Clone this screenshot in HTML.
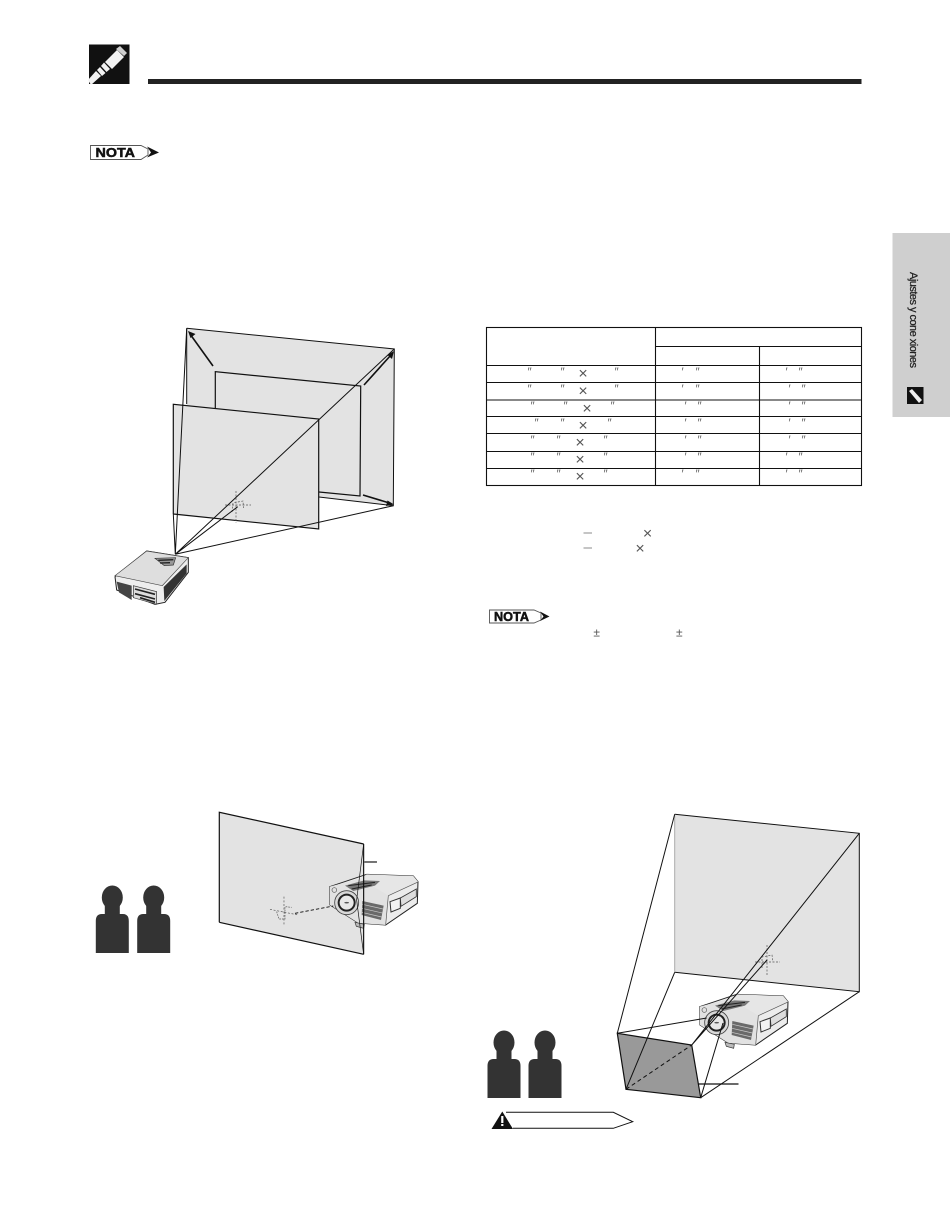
<!DOCTYPE html>
<html><head><meta charset="utf-8"><style>
html,body{margin:0;padding:0;background:#fff;width:950px;height:1227px;overflow:hidden}
svg{display:block}
text{font-family:"Liberation Sans",sans-serif}
.q{font-size:12px;fill:#666;font-style:italic;text-anchor:middle}
.x{font-size:16px;fill:#555;text-anchor:middle}
.l{stroke:#111;stroke-width:1;fill:none}
.b{stroke:#111;stroke-width:1.2;fill:none}
.d{stroke:#555;stroke-width:.7;fill:none;stroke-dasharray:2 1.500}
</style></head><body>
<svg width="950" height="1227" viewBox="0 0 950 1227" xmlns="http://www.w3.org/2000/svg">
<defs>
<g id="person"><ellipse cx="16.500" cy="11.500" rx="10.500" ry="12" fill="#333"/><path d="M9 18h15v10h3q6 0 6 7v32H0V35q0-7 6-7h3z" fill="#333"/></g>
<g id="proj">
<path d="M14 65L125 28 265 33 279 50 277 115 182 180 100 174 15 120Z" fill="#ececec" stroke="#222" stroke-width="3"/>
<path d="M125 28L265 33 279 50 190 92 100 45Z" fill="#e6e6e6"/>
<path d="M14 65L105 40 190 92 182 180 100 174 15 120Z" fill="#e2e2e2"/>
<path d="M190 92L182 180M190 92L277 52" stroke="#555" stroke-width="2" fill="none"/>
<path d="M112 108L176 122 168 165 110 150Z" fill="#6a6a6a"/>
<path d="M112 118L174 132M111 130L172 144M110 142L170 156" stroke="#ccc" stroke-width="2"/>
<path d="M195 110L226 99 226 130 198 141Z" fill="#f2f2f2" stroke="#333" stroke-width="3"/>
<path d="M226 99L274 72 274 95 228 124Z" fill="#ddd" stroke="#333" stroke-width="2.500"/>
<path d="M60 62L118 46 165 48 150 62 85 78Z" fill="#777"/>
<path d="M70 62L150 52M80 72L140 60" stroke="#222" stroke-width="3"/>
<circle cx="28" cy="75" r="7" fill="none" stroke="#555" stroke-width="2"/>
<circle cx="65" cy="113" r="36" fill="#d8d8d8" stroke="#444" stroke-width="2.500"/>
<circle cx="65" cy="113" r="27" fill="#222"/>
<circle cx="65" cy="113" r="21" fill="#e8e8e8"/>
<ellipse cx="65" cy="113" rx="7" ry="2.500" fill="#555"/>
<path d="M90 172L118 178 116 190 94 184Z" fill="#bbb" stroke="#333" stroke-width="2"/>
</g>
</defs>

<!-- header -->
<rect x="89" y="44.500" width="40.500" height="39.500" fill="#111"/>
<g fill="#f2f2f2">
<path d="M88 80 L96 71 L101 76 L91 85 Z"/>
<path d="M97 70 L100 67 L105.500 73 L102 76 Z"/>
<path d="M101 66 L104 62.500 L110 69 L106.500 72 Z"/>
<path d="M105 62 L117 50 L124 57 L112 69 Z"/>
<path d="M116 49 L120 46 L127 53 L124 56 Z" fill="#cfcfcf"/>
</g>
<rect x="148" y="79" width="713.500" height="5" fill="#222"/>

<!-- NOTA 1 -->
<path d="M90.500 145.500H141L148 149 V155 L141 159.500H90.500Z" fill="#fff" stroke="#555" stroke-width=".9"/>
<path d="M147 146.500L159 152.500 147 157.500 151 152.500Z" fill="#111"/>
<text x="95.500" y="157" font-size="13" font-weight="700" stroke="#111" stroke-width=".5" textLength="39.500" lengthAdjust="spacingAndGlyphs" fill="#111">NOTA</text>

<!-- side tab -->
<rect x="892.500" y="233" width="57.500" height="184" fill="#cfcfcf"/>
<text transform="translate(910 272) rotate(90)" font-size="11" stroke="#222" stroke-width=".25" fill="#222" textLength="96">Ajustes y cone xiones</text>
<rect x="907" y="387" width="16.500" height="17" fill="#111"/>
<path d="M909 391l3-2 10 11-3 3z" fill="#eee"/>

<!-- top left diagram -->
<polygon points="186.700,328.300 394.300,349 393.300,505.700 319,497 186.700,480" fill="#e3e3e3"/>
<path class="l" d="M186.700 328.300L394.300 349 393.300 505.700 319 497"/>
<path class="l" d="M186.700 328.300V404"/>
<polygon points="215.300,371.700 360.700,386 360,496 319,492 215.300,480" fill="#e3e3e3"/>
<path class="b" d="M215.300 408V371.700L360.700 386 360 496 319 492"/>
<polygon points="173.300,404.300 318.700,419 318.700,529 173.300,514" fill="#e3e3e3"/>
<path class="b" d="M173.300 514V404.300L318.700 419V529L173.300 514"/>
<path class="d" d="M236 491V523M225 505H251"/>
<path class="d" d="M232 512 233 503 243 501 243.500 508"/>
<path class="l" d="M175.300 554.300L186.700 328.300M175.300 554.300L173.300 514M175.300 554.300L394.300 349M175.300 554.300L393.300 505.700M175.300 554.300L237.700 506.700"/>
<!-- arrows -->
<path stroke="#111" stroke-width="1.600" d="M213 366L190 334"/><path d="M188 331l7.500 3-5 4z" fill="#111"/>
<path stroke="#111" stroke-width="1.600" d="M364 385L391 355"/><path d="M394 351l-2 8-4.500-4z" fill="#111"/>
<path stroke="#111" stroke-width="1.600" d="M363 495L391 503.500"/><path d="M394 504.500l-8 1.500 1.500-5.500z" fill="#111"/>
<!-- projector 1 -->
<g transform="translate(105 545) scale(.3333)">
<path d="M125 18L250 38 250 82 180 172 150 178 35 135 30 95Z" fill="#eee" stroke="#222" stroke-width="3"/>
<path d="M125 18L250 38 172 122 30 92Z" fill="#dedede" stroke="#444" stroke-width="2"/>
<path d="M35 110L80 122 80 165 42 142Z" fill="#444"/>
<path d="M176 126L245 58 245 85 178 168Z" fill="#333"/>
<path d="M85 122L155 140 155 178 85 158Z" fill="#ddd" stroke="#333" stroke-width="2"/>
<path d="M90 132L150 148M90 146L150 162M105 158L150 172" stroke="#222" stroke-width="5"/>
<path d="M150 40L212 38 205 60 178 62Z" fill="#999" stroke="#333" stroke-width="2"/>
<path d="M160 46L205 44M165 54L195 53" stroke="#222" stroke-width="4"/>
</g>

<!-- table -->
<g stroke="#111" stroke-width="1.100" fill="none">
<rect x="486.500" y="327.500" width="375" height="158"/>
<path d="M655.500 327.500V485.500M759.500 346.500V485.500M655.500 346.500H861.500M486.500 365.500H861.500M486.500 382.500H861.500M486.500 400H861.500M486.500 416.500H861.500M486.500 433.500H861.500M486.500 451.500H861.500M486.500 468.500H861.500"/>
</g>
<g>
<text class="q" x="529" y="376">″</text><text class="q" x="562" y="376">″</text><text class="x" x="583" y="378.500">×</text><text class="q" x="616" y="376">″</text><text class="q" x="682" y="376">′</text><text class="q" x="697" y="376">″</text><text class="q" x="786" y="376">′</text><text class="q" x="800" y="376">″</text>
<text class="q" x="529" y="393">″</text><text class="q" x="562" y="393">″</text><text class="x" x="583" y="396">×</text><text class="q" x="616" y="393">″</text><text class="q" x="682" y="393">′</text><text class="q" x="697" y="393">″</text><text class="q" x="789" y="393">′</text><text class="q" x="803" y="393">″</text>
<text class="q" x="532" y="410">″</text><text class="q" x="565" y="410">″</text><text class="x" x="587" y="413.500">×</text><text class="q" x="612" y="410">″</text><text class="q" x="685" y="410">′</text><text class="q" x="699" y="410">″</text><text class="q" x="789" y="410">′</text><text class="q" x="803" y="410">″</text>
<text class="q" x="536" y="427">″</text><text class="q" x="562" y="427">″</text><text class="x" x="583" y="430.500">×</text><text class="q" x="609" y="427">″</text><text class="q" x="685" y="427">′</text><text class="q" x="699" y="427">″</text><text class="q" x="789" y="427">′</text><text class="q" x="803" y="427">″</text>
<text class="q" x="532" y="444">″</text><text class="q" x="558" y="444">″</text><text class="x" x="580" y="447.500">×</text><text class="q" x="605" y="444">″</text><text class="q" x="685" y="444">′</text><text class="q" x="699" y="444">″</text><text class="q" x="789" y="444">′</text><text class="q" x="803" y="444">″</text>
<text class="q" x="532" y="461">″</text><text class="q" x="558" y="461">″</text><text class="x" x="580" y="464.500">×</text><text class="q" x="605" y="461">″</text><text class="q" x="685" y="461">′</text><text class="q" x="699" y="461">″</text><text class="q" x="786" y="461">′</text><text class="q" x="800" y="461">″</text>
<text class="q" x="532" y="478">″</text><text class="q" x="558" y="478">″</text><text class="x" x="580" y="481.500">×</text><text class="q" x="605" y="478">″</text><text class="q" x="682" y="478">′</text><text class="q" x="697" y="478">″</text><text class="q" x="786" y="478">′</text><text class="q" x="800" y="478">″</text>
</g>
<path d="M583.500 533H592M583.500 548H592" stroke="#666" stroke-width=".8"/>
<text class="x" x="647.500" y="538.500">×</text><text class="x" x="640" y="553.500">×</text>

<!-- NOTA 2 -->
<path d="M489.500 610H534L541 613 V620 L534 623H489.500Z" fill="#fff" stroke="#555" stroke-width=".9"/>
<path d="M540 611.500L549.500 616.500 540 621 543.500 616.500Z" fill="#111"/>
<text x="494" y="621" font-size="12.500" font-weight="700" stroke="#111" stroke-width=".5" textLength="35" lengthAdjust="spacingAndGlyphs" fill="#111">NOTA</text>
<text x="596.700" y="636.500" font-size="12" fill="#555" text-anchor="middle">±</text>
<text x="679.300" y="636.500" font-size="12" fill="#555" text-anchor="middle">±</text>

<!-- bottom left diagram -->
<polygon points="219.300,812.300 363.700,844 363.700,954.300 219.300,922.300" fill="#e3e3e3"/>
<path class="b" d="M219.300 922.300V812.300L363.700 844M219.300 922.300L363.700 954.300"/>
<g transform="translate(325 865) scale(.3333)"><use href="#proj"/></g>
<g transform="translate(85 800) scale(.3333)">
<path d="M836 132V463" stroke="#111" stroke-width="3.500"/>
<path d="M836 132L815 300 836 463" stroke="#111" stroke-width="2" fill="none"/>
<path d="M838 186H876" stroke="#111" stroke-width="3.500"/>
<path d="M630 340L745 318" stroke="#111" stroke-width="3" stroke-dasharray="10 6" fill="none"/>
<path d="M597 290V375M555 328L640 345" stroke="#555" stroke-width="2" stroke-dasharray="6 5" fill="none"/>
<path d="M575 335L582 357H600V320L620 322" stroke="#555" stroke-width="2" stroke-dasharray="5 3" fill="none"/>
</g>
<use href="#person" x="95.800" y="886"/>
<use href="#person" x="137.200" y="886"/>

<!-- bottom right diagram -->
<polygon points="674.700,814.300 859.300,833.300 859.300,991.700 674.700,972.300" fill="#e3e3e3"/>
<path class="l" d="M674.700 814.300L859.300 833.300V991.700L674.700 972.300"/>
<path d="M674.700 814.300V972.300" stroke="#aaa" stroke-width="1"/>
<g transform="translate(695 985) scale(.3333)"><use href="#proj"/></g>
<polygon points="617.300,1033.300 691.700,1045 700.700,1097.700 626,1089.300" fill="#999"/>
<path class="b" d="M617.300 1033.300L691.700 1045 700.700 1097.700 626 1089.300Z"/>
<path class="l" d="M674.700 814.300L617.300 1033.300M674.700 972.300L626 1089.300M700.700 1097.700L859.300 991.700"/>
<path d="M626 1089.300L691.700 1045" stroke="#111" stroke-width="1" stroke-dasharray="4 3"/>
<path class="d" d="M767 945V975M755 962H780"/>
<path class="d" d="M762 968 762 957 772 955 773 962"/>
<path class="l" d="M859.300 833.300L691.700 1045M767 960L691.700 1045M617.300 1033.300L706.700 1018M700.700 1097.700L723 1023"/>
<path d="M698 1084H738.500" stroke="#111" stroke-width="1.200"/>
<use href="#person" x="487.500" y="1031"/>
<use href="#person" x="528.500" y="1031"/>

<!-- caution -->
<path d="M506 1112.300H613.300L632.700 1121.700 613.300 1128.300H513" fill="#fff" stroke="#111" stroke-width="1"/>
<path d="M502.300 1111.500L513 1129H491.500Z" fill="#111"/>
<rect x="501.200" y="1116" width="2.200" height="7" fill="#fff"/><rect x="501.200" y="1124" width="2.200" height="2" fill="#fff"/>
</svg>
</body></html>
